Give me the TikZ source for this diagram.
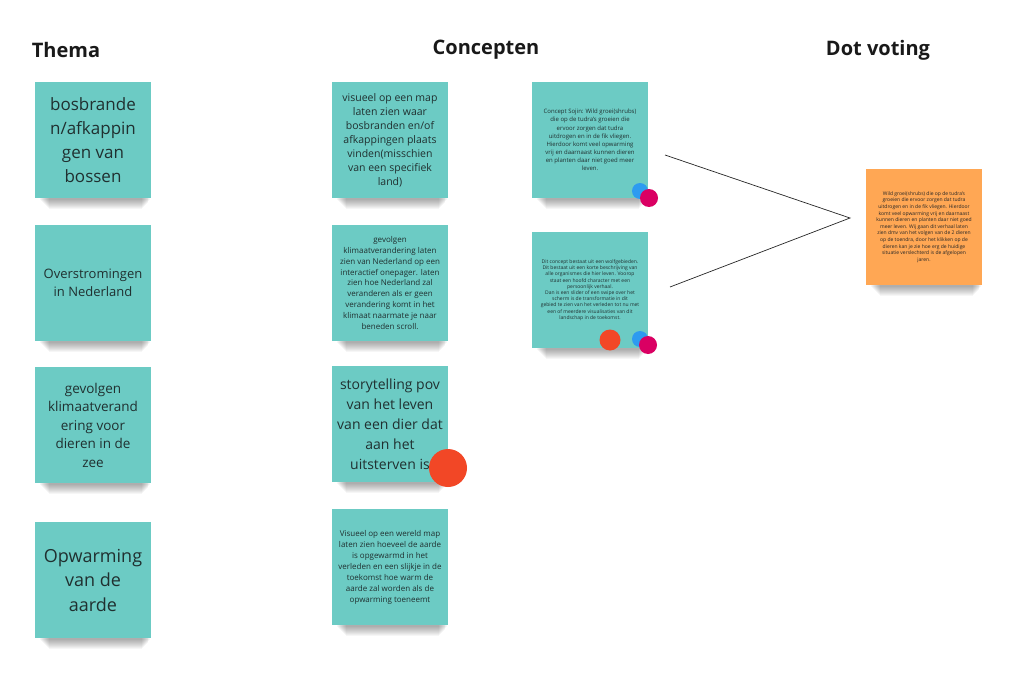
\documentclass[tikz,border=0pt]{standalone}
\usepackage{fontspec}
\setmainfont{Open Sans}
\usetikzlibrary{backgrounds}
\definecolor{stickyteal}{RGB}{108,203,196}
\definecolor{stickyorange}{RGB}{255,167,84}
\definecolor{dotred}{RGB}{242,71,38}
\definecolor{dotblue}{RGB}{45,155,240}
\definecolor{dotmag}{RGB}{218,0,99}
\definecolor{stickytext}{RGB}{32,48,48}
\tikzset{
  sticky/.style={rectangle, fill=stickyteal, minimum width=116pt, minimum height=116pt,
    inner sep=0pt, align=center, text=stickytext},
  orangesticky/.style={sticky, fill=stickyorange, text=black!85},
  heading/.style={font=\bfseries\fontsize{20}{24}\selectfont, text=black!90, inner sep=0pt},
  dotmark/.style={circle, inner sep=0pt, draw=none},
  connector/.style={draw=black!85, line width=0.7pt},
}
\newcommand{\fs}[2]{\fontsize{#1}{#2}\selectfont}
\begin{document}
\begin{tikzpicture}[x=1pt,y=-1pt]
\useasboundingbox (0,0) rectangle (1023,674);
\begin{scope}[on background layer]
\fill[white] (0,0) rectangle (1023,674);
\end{scope}

% headings
\node[heading] (hthema) at (66,50) {Thema};
\node[heading] (hconc) at (486,50) {Concepten};
\node[heading] (hdot) at (878,50) {Dot voting};

% column 1
\node[sticky, font=\fs{17}{24}] (t1) at (93,140) {bosbrande\\n/afkappin\\gen van\\bossen};
\node[sticky, font=\fs{13}{18}] (t2) at (93,283) {Overstromingen\\in Nederland};
\node[sticky, font=\fs{13.5}{18.5}] (t3) at (93,425) {gevolgen\\klimaatverand\\ering voor\\dieren in de\\zee};
\node[sticky, font=\fs{18}{24.5}] (t4) at (93,580) {Opwarming\\van de\\aarde};

% column 2
\node[sticky, font=\fs{10.5}{14}] (c1) at (390,140) {visueel op een map\\laten zien waar\\bosbranden en/of\\afkappingen plaats\\vinden(misschien\\van een specifiek\\land)};
\node[sticky, font=\fs{8}{10.8}] (c2) at (390,283) {gevolgen\\klimaatverandering laten\\zien van Nederland op een\\interactief onepager. laten\\zien hoe Nederland zal\\veranderen als er geen\\verandering komt in het\\klimaat naarmate je naar\\beneden scroll.};
\node[sticky, font=\fs{14}{20}] (c3) at (390,424) {storytelling pov\\van het leven\\van een dier dat\\aan het\\uitsterven is};
\node[sticky, font=\fs{8}{11}] (c4) at (390,567) {Visueel op een wereld map\\laten zien hoeveel de aarde\\is opgewarmd in het\\verleden en een slijkje in de\\toekomst hoe warm de\\aarde zal worden als de\\opwarming toeneemt};

% column 3
\node[sticky, font=\fs{6}{8.1}] (c5) at (590,140) {Concept Sojin: Wild groei(shrubs)\\die op de tudra's groeien die\\ervoor zorgen dat tudra\\uitdrogen en in de fik vliegen.\\Hierdoor komt veel opwarming\\vrij en daarnaast kunnen dieren\\en planten daar niet goed meer\\leven.};
\node[sticky, font=\fs{5}{6.2}] (c6) at (590,290) {Dit concept bestaat uit een wolfgebieden.\\Dit bestaat uit een korte beschrijving van\\alle organismes die hier leven. Voorop\\staat een hoofd character met een\\persoonlijk verhaal.\\Dan is een slider of een swipe over het\\scherm is de transformatie in dit\\gebied te zien van het verleden tot nu met\\een of meerdere visualisaties van dit\\landschap in de toekomst.};

% dot voting
\node[orangesticky, font=\fs{5}{6.6}] (o1) at (924,227) {Wild groei(shrubs) die op de tudra's\\groeien die ervoor zorgen dat tudra\\uitdrogen en in de fik vliegen. Hierdoor\\komt veel opwarming vrij en daarnaast\\kunnen dieren en planten daar niet goed\\meer leven. Wij gaan dit verhaal laten\\zien dmv van het volgen van de 2 dieren\\op de toendra, door het klikken op de\\dieren kan je zie hoe erg de huidige\\situatie verslechterd is de afgelopen\\jaren.};

% shadows
\begin{scope}[on background layer]
\foreach \n in {t1,t2,t3,t4,c1,c2,c3,c4,c5,c6,o1}{
  \foreach \k in {0,...,9}{
    \fill[black, opacity=0.035]
      ([xshift={5pt+\k*1pt}, yshift=2pt]\n.south west) rectangle
      ([xshift={-1pt-\k*0.9pt}, yshift={-1.5pt-\k*1pt}]\n.south east);
  }
}
\end{scope}

% connectors
\coordinate (la) at (665,155);
\coordinate (lv) at (850,218);
\coordinate (lb) at (670,287);
\draw[connector] (la) -- (lv) -- (lb);

% dots
\node[dotmark, fill=dotblue, minimum size=16pt] (d1) at (640,191) {};
\node[dotmark, fill=dotmag, minimum size=18pt] (d2) at (649,198) {};
\node[dotmark, fill=dotred, minimum size=21pt] (d3) at (610,340) {};
\node[dotmark, fill=dotblue, minimum size=16pt] (d4) at (640,339) {};
\node[dotmark, fill=dotmag, minimum size=18pt] (d5) at (648,345) {};
\node[dotmark, fill=dotred, minimum size=38pt] (d6) at (448,468) {};
\end{tikzpicture}
\end{document}
